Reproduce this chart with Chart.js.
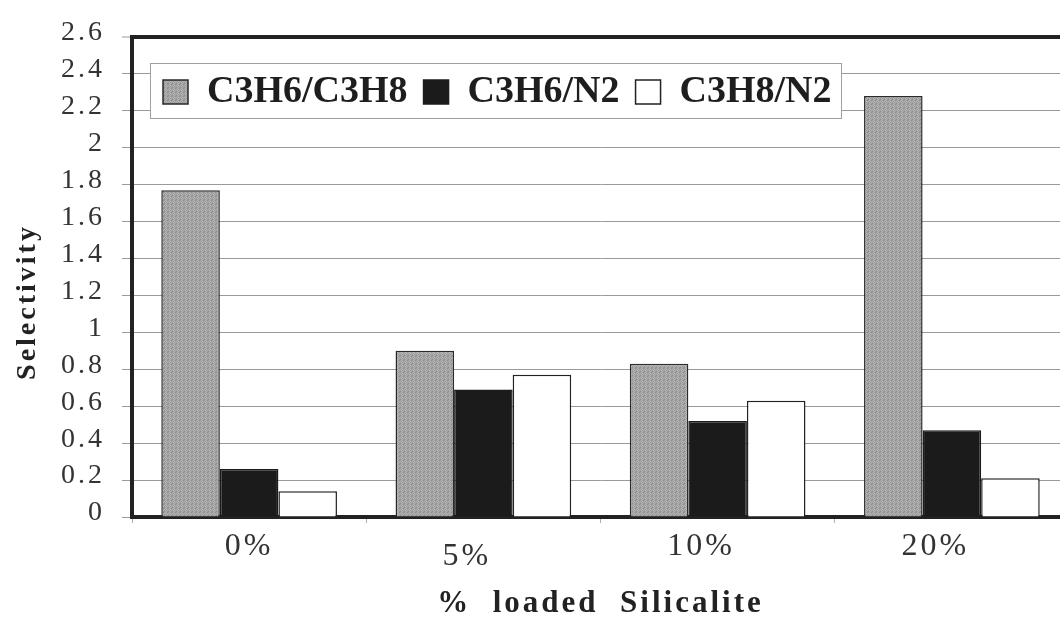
<!DOCTYPE html>
<html>
<head>
<meta charset="utf-8">
<script src="https://cdn.jsdelivr.net/npm/chart.js@4/dist/chart.umd.min.js"></script>
<style>
  html, body { margin: 0; padding: 0; background: #fff; overflow: hidden; width: 1060px; height: 619px; }
  canvas { display: block; }
</style>
</head>
<body>
<canvas id="chart" width="1075" height="619"></canvas>
<script>
// Selectivity of the membranes versus silicalite loading
const categories = ['0%', '5%', '10%', '20%'];
const seriesNames = ['C3H6/C3H8', 'C3H6/N2', 'C3H8/N2'];
const propyleneOverPropane = [1.77, 0.90, 0.83, 2.28];
const propyleneOverNitrogen = [0.26, 0.69, 0.52, 0.47];
const propaneOverNitrogen = [0.14, 0.77, 0.63, 0.21];
const yTickLabels = ['0', '0.2', '0.4', '0.6', '0.8', '1', '1.2', '1.4', '1.6', '1.8', '2', '2.2', '2.4', '2.6'];

const SERIF = "'Liberation Serif', 'Times New Roman', serif";
const canvas = document.getElementById('chart');
const ctx2d = canvas.getContext('2d');

// Stippled grey fill for the first series
function stipple() {
  const tile = document.createElement('canvas');
  tile.width = 4; tile.height = 4;
  const g = tile.getContext('2d');
  const shades = [
    '#9a9a9a', '#b4b4b4', '#a2a2a2', '#8e8e8e',
    '#aeaeae', '#969696', '#bcbcbc', '#a4a4a4',
    '#a0a0a0', '#b8b8b8', '#929292', '#acacac',
    '#8c8c8c', '#a8a8a8', '#b0b0b0', '#9c9c9c'
  ];
  shades.forEach((s, i) => { g.fillStyle = s; g.fillRect(i % 4, Math.floor(i / 4), 1, 1); });
  return ctx2d.createPattern(tile, 'repeat');
}

// Axis text is drawn with a little tracking
const tracking = {
  id: 'tracking',
  beforeDraw(chart) { chart.ctx.letterSpacing = '3px'; },
  afterDraw(chart) { chart.ctx.letterSpacing = '0px'; }
};

// Legend row is placed inside the plot, in a white frame
const LEGEND_LEFT = 147;
const LEGEND_TOP = 57;
const legendFrame = {
  id: 'legendFrame',
  afterLayout(chart) {
    const lg = chart.legend;
    if (!lg) return;
    lg.left = LEGEND_LEFT;
    lg.right = chart.chartArea.right;
    lg.top = LEGEND_TOP;
    lg.bottom = LEGEND_TOP + 80;
    if (!lg._framed) {
      const drawItems = lg.draw.bind(lg);
      lg.draw = function () {
        const ctx = chart.ctx;
        const boxes = lg.legendHitBoxes || [];
        ctx.save();
        ctx.letterSpacing = '0px';
        if (boxes.length) {
          const first = boxes[0];
          const last = boxes[boxes.length - 1];
          const x0 = Math.round(first.left - 13), y0 = Math.round(first.top - 10);
          const x1 = Math.round(last.left + last.width + 9), y1 = Math.round(last.top + last.height + 7);
          ctx.fillStyle = '#ffffff';
          ctx.fillRect(x0, y0, x1 - x0, y1 - y0);
          ctx.strokeStyle = '#a0a0a0';
          ctx.lineWidth = 1;
          ctx.strokeRect(x0 + 0.5, y0 + 0.5, x1 - x0, y1 - y0);
        }
        drawItems();
        ctx.restore();
      };
      lg._framed = true;
    }
  }
};

new Chart(canvas, {
  type: 'bar',
  data: {
    labels: categories,
    datasets: [
      { label: seriesNames[0], data: propyleneOverPropane, backgroundColor: stipple(), borderColor: '#2a2a2a', borderWidth: 1.5 },
      { label: seriesNames[1], data: propyleneOverNitrogen, backgroundColor: '#1b1b1b', borderColor: '#1b1b1b', borderWidth: 1.5 },
      { label: seriesNames[2], data: propaneOverNitrogen, backgroundColor: '#ffffff', borderColor: '#222222', borderWidth: 1.5 }
    ]
  },
  options: {
    responsive: false,
    animation: false,
    devicePixelRatio: 1,
    layout: { padding: { top: 0, right: 6, left: 0, bottom: 0 } },
    datasets: { bar: { barPercentage: 1.0, categoryPercentage: 0.75 } },
    plugins: {
      tooltip: { enabled: false },
      legend: {
        position: 'top',
        align: 'start',
        maxHeight: 37,
        labels: {
          boxWidth: 25,
          boxHeight: 24,
          padding: 16,
          color: '#1e1e1e',
          font: { family: SERIF, size: 38, weight: 'bold' }
        }
      }
    },
    scales: {
      x: {
        offset: true,
        afterFit(scale) { scale.height = 102; },
        grid: { display: true, drawOnChartArea: false, offset: true, tickLength: 6, color: '#b0b0b0', lineWidth: 1 },
        border: { display: true, width: 4, color: '#222222' },
        ticks: {
          autoSkip: false,
          maxRotation: 0,
          padding: 4,
          color: '#333333',
          font: (c) => ({ family: SERIF, size: 32, lineHeight: c.index === 1 ? 1.83 : 1.2 }),
          callback: (v, i) => (i === 0 ? categories[i] : categories[i] + '\u00a0\u00a0\u00a0')
        },
        title: {
          display: true,
          text: '%  loaded  Silicalite',
          color: '#222222',
          font: { family: SERIF, size: 31, weight: 'bold', lineHeight: 1 },
          padding: { top: 0, bottom: 0 }
        }
      },
      y: {
        min: 0,
        max: 2.6,
        afterFit(scale) { scale.width = 132; },
        grid: {
          color: (c) => (c.tick && c.tick.value >= 2.6 ? '#222222' : '#9a9a9a'),
          lineWidth: (c) => (c.tick && c.tick.value >= 2.6 ? 4 : 1),
          tickColor: '#9a9a9a',
          tickWidth: 1,
          tickLength: 10
        },
        border: { display: true, width: 4, color: '#222222' },
        ticks: {
          stepSize: 0.2,
          padding: 17,
          labelOffset: -4,
          color: '#333333',
          font: { family: SERIF, size: 28 },
          callback: (v, i) => yTickLabels[i]
        },
        title: {
          display: true,
          text: 'Selectivity' + '\u00a0\u00a0\u00a0\u00a0\u00a0',
          color: '#222222',
          font: { family: SERIF, size: 28, weight: 'bold' },
          padding: { top: 11, bottom: 0 }
        }
      }
    }
  },
  plugins: [tracking, legendFrame]
});
</script>
</body>
</html>
